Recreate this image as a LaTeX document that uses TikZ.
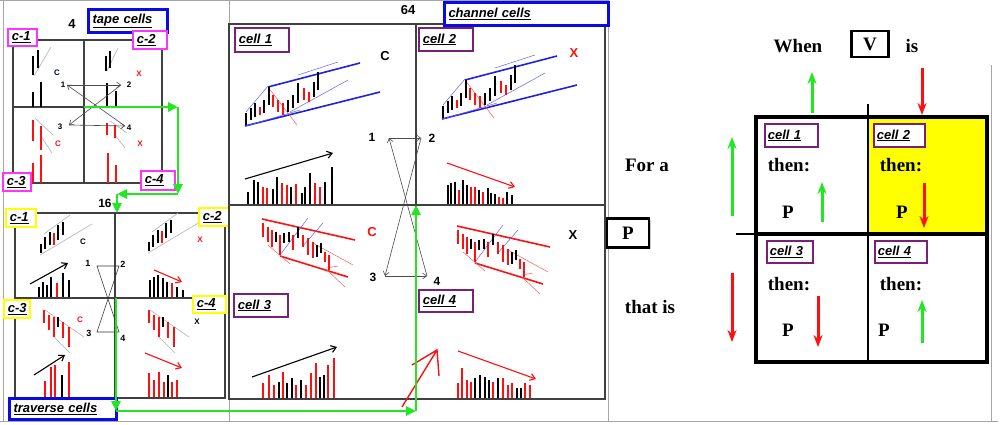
\documentclass[tikz,border=0pt]{standalone}
\usepackage{fontspec}
\setmainfont{Liberation Serif}
\setsansfont{Liberation Sans}
\usetikzlibrary{arrows.meta,shadows}

\definecolor{pgreen}{HTML}{22E622}
\definecolor{pred}{HTML}{FF1010}
\definecolor{pviolet}{HTML}{7A1F7A}
\definecolor{pmagenta}{HTML}{FF33FF}
\definecolor{pyellow}{HTML}{FFFF00}
\definecolor{pblue}{HTML}{0A0AE6}
\definecolor{chblue}{HTML}{2020E0}
\definecolor{gridgray}{HTML}{404040}

\tikzset{
  tag/.style={draw=#1, line width=1.8pt, fill=white, anchor=north west,
    font=\fontsize{13}{14}\selectfont\sffamily\bfseries\itshape,
    inner xsep=4pt, inner ysep=0pt, align=left,
    drop shadow={shadow xshift=1.2pt, shadow yshift=-1.2pt, opacity=.35}},
  digit/.style={font=\fontsize{#1}{#1}\selectfont\sffamily\bfseries, inner sep=0.5pt},
  seqarrow/.style={gray!60!black, line width=0.6pt, -{Straight Barb[length=4pt,width=6pt]}},
  trend/.style={line width=1.1pt, -{Straight Barb[length=5pt,width=7pt]}},
  greenpath/.style={pgreen, line width=2.6pt, -{Triangle[length=10pt,width=9pt]}},
  bigtxt/.style={font=\fontsize{19}{22}\selectfont\bfseries, inner sep=1pt},
  fatarrow/.style={line width=3pt, -{Stealth[length=12pt,width=9pt]}},
  cellgrid/.style={gridgray, line width=1.3pt},
}

% bars: width, list x/top/bottom/colour
\newcommand\pricebars[2]{\foreach \x/\ya/\yb/\c in {#2} \draw[\c, line width=#1] (\x,\ya) -- (\x,\yb);}
% volume bars: width, base, list x/top/colour
\newcommand\volbars[3]{\foreach \x/\y/\c in {#3} \draw[\c, line width=#1] (\x,#2) -- (\x,\y);}

% rising channel of channel cells 1 and 2
\newcommand\upchannel{%
  \draw[chblue, line width=1.6pt] (245,126) -- (380,92) (268,87) -- (360,63);
  \draw[chblue!70, line width=0.5pt] (246,112) -- (268,86) (290,112) -- (348,80)
    (246,126) -- (300,110) (298,75) -- (338,62);
  \draw[pred!70, line width=0.5pt] (268,87) -- (297,125);
  \pricebars{1.7pt}{246/113/125/black, 251/108/120/black, 255/103/117/black, 260/107/115/pred,
    264/100/113/black, 269/87/105/black, 273/95/107/pred, 278/100/112/pred, 283/103/115/pred,
    288/100/112/black, 293/95/108/black, 298/83/103/black, 304/88/100/pred, 309/92/102/pred,
    314/82/97/black, 318/72/90/black}
}
% falling channel of channel cells 3 and 4
\newcommand\downchannel{%
  \draw[pred, line width=1.6pt] (262,219) -- (355,240) (280,256) -- (348,277);
  \draw[pred!70, line width=0.5pt] (268,245) -- (290,264) (313,243) -- (353,265)
    (327,270) -- (345,287) (327,268) -- (338,266);
  \draw[chblue!70, line width=0.5pt] (280,255) -- (308,218) (302,247) -- (323,223);
  \pricebars{1.7pt}{263/223/237/pred, 268/227/242/pred, 272/230/247/pred, 276/232/242/black,
    280/235/255/pred, 284/233/243/black, 289/232/242/black, 293/235/250/pred, 298/227/238/black,
    303/235/247/pred, 308/238/255/pred, 313/242/258/pred, 317/245/257/black, 321/243/253/black,
    325/252/262/pred, 329/255/270/pred}
}
% small channels of traverse cells
\newcommand\smallup{%
  \draw[gray!60, line width=0.6pt] (40,255) -- (92,224) (44,234) -- (70,215);
  \pricebars{1.3pt}{41/244/253/black, 45/237/249/black, 50/232/245/black, 54/233/245/pred,
    58/225/240/black, 63/222/235/black}
}
\newcommand\smalldown{%
  \draw[gray!60, line width=0.6pt] (45,310) -- (84,337) (54,337) -- (70,353);
  \pricebars{1.3pt}{44/310/323/pred, 49/315/330/pred, 54/317/337/pred, 58/317/327/black,
    63/322/338/pred, 69/327/347/pred}
}

\begin{document}
\begin{tikzpicture}[x=1pt,y=-1pt]
\useasboundingbox (0,0) rectangle (1000,425);
\fill[white] (0,0) rectangle (1000,425);
% frames
\draw[gray!70, line width=1pt] (0,1) -- (609,1) (3,1) -- (3,421) (229,1) -- (229,421)
  (608,1) -- (608,421) (0,421) -- (998,421) (991,65) -- (991,421);

% ---- tape cells
\draw[cellgrid] (13,40) rectangle (162,183) (84,40) -- (84,183) (13,107) -- (162,107);
\node[digit=13] (n4) at (72,24) {4};
\node[tag=pblue, line width=3pt, text width=71pt, minimum height=23pt] (tape) at (87,8) {\underline{tape cells}};
\draw[gray!60, line width=0.6pt] (34,76) -- (51,47) (107,71) -- (118,48)
  (35,118) -- (53,135) (42,138) -- (52,153) (110,121) -- (127,133) (115,135) -- (125,148);
\pricebars{1.2pt}{33/56/75/black, 38/50/68/black, 106/56/71/black, 110/51/68/black,
  33/120/141/pred, 41/126/150/pred, 107/123/135/pred, 115/125/138/pred}
\volbars{2.2pt}{107}{33/92/black, 41/82/black, 107/83/black, 116/91/black}
\volbars{2.2pt}{183}{33/163/pred, 41/155/pred, 108/153/pred, 116/165/pred}
\node[digit=8, blue!40!black] (tc1) at (57,73) {C};
\node[digit=8, pred] (tx2) at (139,74) {X};
\node[digit=8, pred] (tc3) at (58,144) {C};
\node[digit=8, pred] (tx4) at (140,144) {X};
\coordinate (k1) at (67,85);
\coordinate (k2) at (121,85);
\coordinate (k3) at (69,125);
\coordinate (k4) at (125,126);
\node[digit=8] (k1l) at (63,85) {1};
\node[digit=8] (k2l) at (129,85) {2};
\node[digit=8] (k3l) at (60,127) {3};
\node[digit=8] (k4l) at (129,128) {4};
\draw[seqarrow] (k1) -- (k2);
\draw[seqarrow] (k2) -- (k3);
\draw[seqarrow] (k3) -- (k4);
\draw[seqarrow] (k4) -- (k1);
\node[tag=pmagenta, text width=21pt, minimum height=17pt] (tc-1) at (7,28) {\underline{c-1}};
\node[tag=pmagenta, text width=26pt, minimum height=18pt] (tc-2) at (132,30) {\underline{c-2}};
\node[tag=pmagenta, text width=20pt, minimum height=18pt] (tc-3) at (2,172) {\underline{c-3}};
\node[tag=pmagenta, text width=26pt, minimum height=19pt] (tc-4) at (140,170) {\underline{c-4}};

% ---- traverse cells
\draw[cellgrid] (15,213) rectangle (225,398) (115,213) -- (115,398) (15,298) -- (225,298);
\node[digit=12] (n16) at (105,203) {16};
\smallup
\begin{scope}[shift={(108,-2)}]\smallup\end{scope}
\smalldown
\begin{scope}[shift={(105,0)}]\smalldown\end{scope}
\volbars{1.8pt}{297}{39/287/black, 43/282/black, 47/285/black, 51/277/black, 57/283/pred,
  63/273/black, 69/280/black, 150/280/black, 154/277/black, 158/275/black, 163/278/black,
  167/282/black, 172/283/pred, 177/287/black, 183/290/black}
\volbars{1.8pt}{397}{45/381/pred, 51/367/pred, 55/365/pred, 62/375/black, 69/362/pred,
  149/373/pred, 154/380/pred, 159/372/pred, 164/382/pred, 168/375/black, 172/382/pred, 177/380/pred}
\draw[trend, black] (30,284) -- (68,263);
\draw[trend, pred] (154,270) -- (182,282);
\draw[trend, black] (34,375) -- (65,355);
\draw[trend, pred] (145,353) -- (182,368);
\node[digit=8] (uc1) at (83,242) {C};
\node[digit=8, pred] (ux2) at (200,240) {X};
\node[digit=8, pred] (uc3) at (80,320) {C};
\node[digit=8] (ux4) at (197,322) {X};
\coordinate (h1) at (97,266);
\coordinate (h2) at (119,266);
\coordinate (h3) at (97,332);
\coordinate (h4) at (119,332);
\node[digit=9] (h1l) at (88,263) {1};
\node[digit=9] (h2l) at (123,264) {2};
\node[digit=9] (h3l) at (89,333) {3};
\node[digit=9] (h4l) at (123,338) {4};
\draw[black!80, line width=0.6pt] (h1) -- (h2) -- (h3) -- (h4) -- cycle;
\node[tag=pyellow, text width=22pt, minimum height=18pt] (uc-1) at (5,208) {\underline{c-1}};
\node[tag=pyellow, text width=22pt, minimum height=18pt] (uc-2) at (198,207) {\underline{c-2}};
\node[tag=pyellow, text width=18pt, minimum height=18pt] (uc-3) at (3,299) {\underline{c-3}};
\node[tag=pyellow, text width=25pt, minimum height=17pt] (uc-4) at (192,295) {\underline{c-4}};
\node[tag=pblue, line width=3pt, text width=99pt, minimum height=21pt] (trav) at (8,397) {\underline{traverse cells}};

% ---- channel cells
\draw[cellgrid, line width=1.2pt] (229,24) rectangle (605,399) (416,24) -- (416,399) (229,205) -- (605,205);
\node[digit=13] (n64) at (408,10) {64};
\node[tag=pblue, line width=3pt, text width=156pt, minimum height=23pt] (chan) at (443,1) {\underline{channel cells}};
\upchannel
\begin{scope}[shift={(197,-7)}]\upchannel\end{scope}
\downchannel
\begin{scope}[shift={(195,7)}]\downchannel\end{scope}
\volbars{1.9pt}{204}{248/192/black, 254/180/black, 258/182/black, 263/187/pred, 267/188/pred,
  273/189/black, 277/177/black, 282/183/pred, 287/185/pred, 291/187/black, 296/184/pred,
  302/193/black, 305/187/black, 310/173/black, 315/183/pred, 320/187/pred, 325/182/black, 332/167/black}
\volbars{1.9pt}{204}{448/185/black, 451/183/black, 455/182/black, 459/190/pred, 463/180/black,
  467/185/black, 471/187/pred, 475/187/pred, 479/190/black, 483/192/pred, 488/188/black,
  491/193/black, 495/194/black, 499/197/pred, 503/198/pred, 507/192/black, 512/195/black}
\volbars{1.9pt}{398}{263/383/pred, 269/375/pred, 274/385/pred, 279/382/black, 283/372/pred,
  287/383/black, 292/378/black, 296/385/pred, 301/380/black, 306/385/pred, 311/373/pred,
  316/363/pred, 320/377/black, 324/375/black, 328/365/pred, 334/358/pred}
\volbars{1.9pt}{398}{458/383/pred, 462/368/pred, 467/380/pred, 471/382/pred, 475/378/black,
  480/375/black, 485/377/black, 489/380/black, 493/382/pred, 498/378/black, 503/378/pred,
  508/385/pred, 512/383/pred, 517/388/black, 521/388/black, 525/383/pred, 530/385/pred}
\draw[trend, black] (245,179) -- (333,153);
\draw[trend, pred] (447,163) -- (515,187);
\draw[trend, black] (252,377) -- (337,347);
\draw[trend, pred] (458,351) -- (536,379);
\node[digit=13] (mc1) at (385,56) {C};
\node[digit=13, pred] (mx2) at (574,53) {X};
\node[digit=13, pred] (mc3) at (372,232) {C};
\node[digit=13] (mx4) at (573,235) {X};
\coordinate (m1) at (389,138);
\coordinate (m2) at (421,138);
\coordinate (m3) at (385,276);
\coordinate (m4) at (427,276);
\node[digit=12] (m1l) at (372,137) {1};
\node[digit=12] (m2l) at (432,138) {2};
\node[digit=12] (m3l) at (373,277) {3};
\node[digit=12] (m4l) at (437,281) {4};
\draw[seqarrow] (m1) -- (m2);
\draw[seqarrow] (m2) -- (m3);
\draw[seqarrow] (m3) -- (m4);
\draw[seqarrow] (m4) -- (m1);
\draw[pred, line width=1.4pt] (402,407) -- (437,350) (412,365) -- (437,350) -- (439,376);
\node[tag=pviolet, text width=46pt, minimum height=24pt] (cell1) at (234,27) {\underline{cell 1}};
\node[tag=pviolet, text width=46pt, minimum height=23pt] (cell2) at (418,27) {\underline{cell 2}};
\node[tag=pviolet, text width=46pt, minimum height=23pt] (cell3) at (233,293) {\underline{cell 3}};
\node[tag=pviolet, text width=46pt, minimum height=22pt] (cell4) at (418,289) {\underline{cell 4}};

% ---- green traversal path
\coordinate (g1) at (84,107);
\coordinate (g2) at (178,107);
\coordinate (g3) at (178,194);
\coordinate (g4) at (117,194);
\coordinate (g5) at (117,213);
\coordinate (g6) at (116,298);
\coordinate (g7) at (116,411);
\coordinate (g8) at (416,411);
\coordinate (g9) at (416,205);
\draw[greenpath] (g1) -- (g2);
\draw[greenpath] (g2) -- (g3);
\draw[greenpath] (g3) -- (g4);
\draw[greenpath] (g4) -- (g5);
\draw[greenpath] (g6) -- (g7);
\draw[greenpath] (g7) -- (g8);
\draw[greenpath] (g8) -- (g9);

% ---- right panel
\fill[pyellow] (868,117) rectangle (987,234);
\draw[black, line width=1.2pt] (868,104) -- (868,117) (736,234) -- (756,234);
\draw[black, line width=2.5pt] (868,117) -- (868,362);
\draw[black, line width=4pt] (756,234) -- (987,234) (756,117) rectangle (987,362);
\node[bigtxt] (when) at (798,46) {When};
\node[bigtxt, draw, line width=2.5pt, minimum width=37pt, minimum height=26pt,
  drop shadow={shadow xshift=1.5pt, shadow yshift=-1.5pt, opacity=.4}, fill=white] (vbox) at (870,44) {V};
\node[bigtxt] (is) at (912,46) {is};
\node[bigtxt] (fora) at (647,165) {For a};
\node[bigtxt, draw, line width=2.5pt, minimum width=42pt, minimum height=29pt,
  drop shadow={shadow xshift=1.5pt, shadow yshift=-1.5pt, opacity=.4}, fill=white] (pbox) at (628,233) {P};
\node[bigtxt] (thatis) at (650,307) {that is};
\draw[fatarrow, pgreen] (812,113) -- (812,72);
\draw[fatarrow, pred] (922,68) -- (922,115);
\draw[fatarrow, pgreen] (732,216) -- (732,137);
\draw[fatarrow, pred] (732,273) -- (732,342);
\node[tag=pviolet, inner xsep=3pt, text width=47pt, minimum height=23pt] (rcell1) at (764,123) {\underline{cell 1}};
\node[tag=pviolet, inner xsep=3pt, text width=45pt, minimum height=23pt] (rcell2) at (873,123) {\underline{cell 2}};
\node[tag=pviolet, inner xsep=3pt, text width=40pt, minimum height=22pt] (rcell3) at (766,240) {\underline{cell 3}};
\node[tag=pviolet, inner xsep=3pt, text width=46pt, minimum height=22pt] (rcell4) at (874,240) {\underline{cell 4}};
\node[bigtxt] (then1) at (789,165) {then:};
\node[bigtxt] (then2) at (901,165) {then:};
\node[bigtxt] (then3) at (789,284) {then:};
\node[bigtxt] (then4) at (901,284) {then:};
\node[bigtxt] (p1) at (788,212) {P};
\node[bigtxt] (p2) at (902,212) {P};
\node[bigtxt] (p3) at (788,330) {P};
\node[bigtxt] (p4) at (884,330) {P};
\draw[fatarrow, pgreen] (822,222) -- (822,182);
\draw[fatarrow, pred] (924,183) -- (924,228);
\draw[fatarrow, pred] (818,296) -- (818,347);
\draw[fatarrow, pgreen] (922,343) -- (922,300);
\end{tikzpicture}
\end{document}
